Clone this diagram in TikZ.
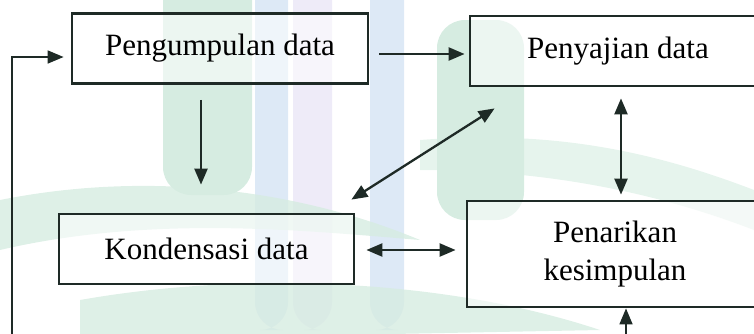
\documentclass[tikz,border=0pt]{standalone}
\usepackage{fontspec}
\setmainfont{Liberation Serif}
\usetikzlibrary{arrows.meta,positioning,calc}
\definecolor{wmgreen}{HTML}{D6ECE1}
\definecolor{wmblue}{HTML}{DDE9F6}
\definecolor{wmlilac}{HTML}{EEEBF8}
\definecolor{boxink}{HTML}{1E2A26}
\begin{document}
\begin{tikzpicture}[x=1pt, y=-1pt, font=\fontsize{31}{38}\selectfont,
  box/.style={draw=boxink, line width=2.8pt, fill=white, fill opacity=0.55, text opacity=1, minimum width=296pt, align=center, inner sep=0pt},
  arr/.style={-{Triangle[length=16pt, width=13pt]}, line width=2.3pt, draw=boxink},
  darr/.style={{Triangle[length=16pt, width=13pt]}-{Triangle[length=16pt, width=13pt]}, line width=2.3pt, draw=boxink},
  wm/.style={draw=none, rounded corners=28pt}]
  \useasboundingbox (0,0) rectangle (754,333);
  \clip (0,0) rectangle (754,333);
  % ---------- watermark ----------
  \fill[wm, wmgreen] (163,-30) rectangle (252,195);
  \fill[wm, wmblue] (255,-30) rectangle (288,330);
  \fill[wm, wmlilac] (293,-30) rectangle (332,330);
  \fill[wm, wmblue] (370,-30) rectangle (404,330);
  \fill[wm, wmgreen] (437,20) rectangle (524,220);
  \fill[wmgreen, opacity=0.8] (0,200) .. controls (150,170) and (300,190) .. (420,240) .. controls (300,230) and (150,215) .. (0,250) -- cycle;
  \fill[wmgreen, opacity=0.8] (80,300) .. controls (250,270) and (450,280) .. (600,330) -- (80,340) -- cycle;
  \fill[wmgreen, opacity=0.6] (420,140) .. controls (550,130) and (650,150) .. (754,190) -- (754,230) .. controls (650,190) and (540,170) .. (420,170) -- cycle;
  % ---------- boxes ----------
  \node[box, minimum height=70pt] (pg) at (220,48.5) {Pengumpulan data};
  \node[box, minimum height=70pt] (pj) at (618,51) {Penyajian data};
  \node[box, minimum width=295pt, minimum height=70pt] (kd) at (206.5,249) {Kondensasi data};
  \node[box, minimum height=106pt] (pn) at (615,254) {Penarikan\\kesimpulan};
  % ---------- arrows ----------
  \draw[arr, shorten <=10pt, shorten >=4pt] ([yshift=-5.5pt]pg.east) -- ([yshift=-5.5pt]pg.east -| pj.west);
  \draw[arr, shorten <=15pt, shorten >=28pt] ([xshift=-19pt]pg.south) -- ([xshift=-19pt]pg.south |- kd.north);
  \draw[darr] ([shift={(-4pt,13pt)}]kd.north east) -- ([shift={(26pt,-21pt)}]pj.south west);
  \draw[darr, shorten <=11pt, shorten >=5pt] ([xshift=3pt]pj.south) -- ([xshift=3pt]pj.south |- pn.north);
  \draw[darr, shorten <=11pt, shorten >=10pt] ([yshift=-1pt]kd.east) -- ([yshift=-1pt]kd.east -| pn.west);
  % ---------- feedback loop ----------
  \coordinate (lb) at (12,360);
  \draw[darr, line width=1.7pt, shorten <=7pt] ([yshift=-8.5pt]pg.west) -| (lb) -| ([xshift=11pt]pn.south);
\end{tikzpicture}
\end{document}
